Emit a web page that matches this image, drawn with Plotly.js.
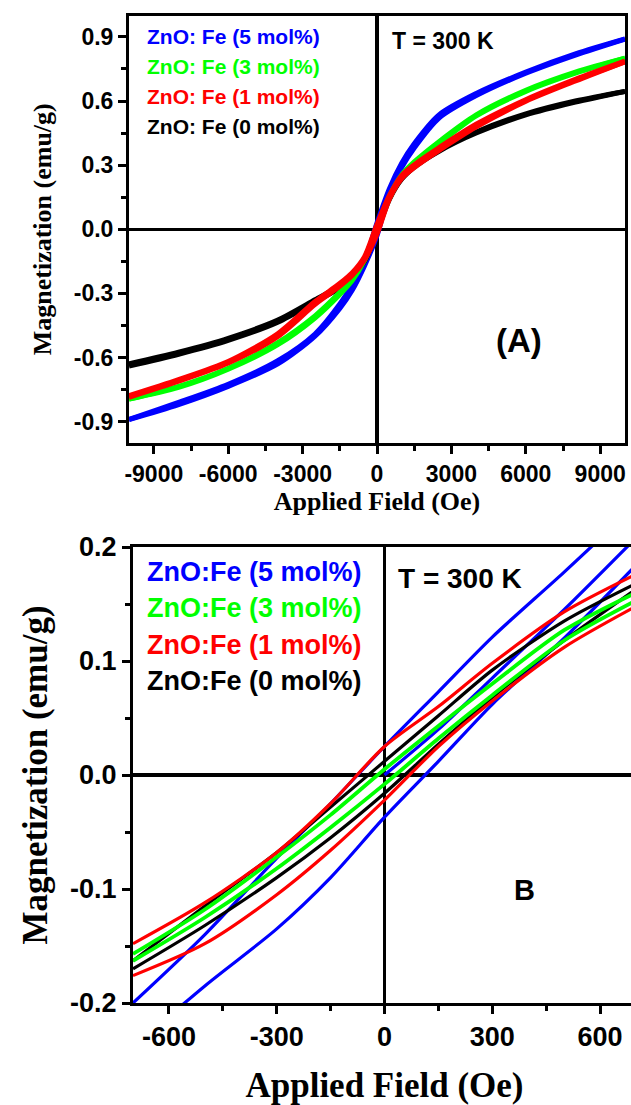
<!DOCTYPE html>
<html>
<head>
<meta charset="utf-8">
<script src="https://cdn.plot.ly/plotly-3.0.1.min.js"></script>
<style>
html,body{margin:0;padding:0;background:#fff;overflow:hidden;}
#chart{width:640px;height:1105px;}
</style>
</head>
<body>
<div id="chart"></div>
<script>
// ---------- Panel A (wide field) ----------
const fieldA_down = [10000, 8000, 6000, 4000, 2500, 1500, 1000, 500, 0, -500, -1000, -1500, -2500, -4000, -6000, -8000, -10000];
const fieldA_up   = [-10000, -8000, -6000, -4000, -2500, -1500, -1000, -500, 0, 500, 1000, 1500, 2500, 4000, 6000, 8000, 10000];

const fe5A_down = [0.89, 0.82, 0.735, 0.635, 0.535, 0.40, 0.31, 0.19, 0.03, -0.15, -0.26, -0.35, -0.49, -0.615, -0.725, -0.81, -0.89];
const fe5A_up   = [-0.89, -0.82, -0.735, -0.63, -0.50, -0.37, -0.285, -0.17, -0.03, 0.17, 0.29, 0.38, 0.52, 0.625, 0.73, 0.815, 0.89];

const fe3A_down = [0.80, 0.735, 0.65, 0.535, 0.41, 0.315, 0.255, 0.155, 0.01, -0.135, -0.23, -0.295, -0.405, -0.53, -0.65, -0.735, -0.795];
const fe3A_up   = [-0.795, -0.74, -0.655, -0.54, -0.415, -0.305, -0.24, -0.145, -0.01, 0.145, 0.245, 0.305, 0.40, 0.53, 0.645, 0.73, 0.80];

const fe1A_down = [0.785, 0.70, 0.605, 0.49, 0.38, 0.30, 0.25, 0.155, 0.02, -0.13, -0.205, -0.255, -0.34, -0.49, -0.62, -0.705, -0.78];
const fe1A_up   = [-0.785, -0.71, -0.625, -0.50, -0.35, -0.265, -0.215, -0.14, -0.02, 0.145, 0.24, 0.29, 0.37, 0.48, 0.60, 0.695, 0.785];

const fe0A_down = [0.645, 0.60, 0.54, 0.455, 0.37, 0.295, 0.245, 0.15, 0.01, -0.14, -0.215, -0.265, -0.33, -0.425, -0.51, -0.575, -0.63];
const fe0A_up   = [-0.64, -0.585, -0.52, -0.435, -0.34, -0.275, -0.225, -0.15, -0.01, 0.14, 0.235, 0.29, 0.365, 0.45, 0.535, 0.595, 0.645];

// ---------- Panel B (low field) ----------
const fieldB_down = [700, 500, 300, 150, 0, -150, -300, -500, -700];
const fieldB_up   = [-700, -500, -300, -150, 0, 150, 300, 500, 700];
const fieldB_virgin = [0, 150, 300, 500, 700];

const fe5B_down = [0.237, 0.178, 0.121, 0.073, 0.025, -0.025, -0.073, -0.14, -0.2];
const fe5B_up   = [-0.239, -0.185, -0.135, -0.09, -0.037, 0.012, 0.062, 0.12, 0.184];
const fe5B_virgin = [0.0, 0.04, 0.085, 0.145, 0.208];

const fe3B_down = [0.16, 0.127, 0.08, 0.043, 0.005, -0.035, -0.072, -0.118, -0.157];
const fe3B_up   = [-0.163, -0.125, -0.082, -0.046, -0.008, 0.032, 0.07, 0.118, 0.153];

const fe1B_down = [0.176, 0.143, 0.098, 0.06, 0.025, -0.025, -0.068, -0.112, -0.148];
const fe1B_up   = [-0.176, -0.148, -0.105, -0.066, -0.022, 0.025, 0.065, 0.112, 0.148];

const fe0B_down = [0.168, 0.135, 0.092, 0.052, 0.012, -0.028, -0.068, -0.115, -0.163];
const fe0B_up   = [-0.17, -0.132, -0.09, -0.055, -0.016, 0.027, 0.068, 0.118, 0.163];

// ---------- tick labels ----------
const ticksA_x = [-9000, -6000, -3000, 0, 3000, 6000, 9000];
const ticksA_xText = ['-9000', '-6000', '-3000', '0', '3000', '6000', '9000'];
const ticksA_y = [-0.9, -0.6, -0.3, 0, 0.3, 0.6, 0.9];
const ticksA_yText = ['-0.9', '-0.6', '-0.3', '0.0', '0.3', '0.6', '0.9'];
const ticksB_x = [-600, -300, 0, 300, 600];
const ticksB_xText = ['-600', '-300', '0', '300', '600'];
const ticksB_y = [-0.2, -0.1, 0, 0.1, 0.2];
const ticksB_yText = ['-0.2', '-0.1', '0.0', '0.1', '0.2'];

const legendA = ['ZnO: Fe (5 mol%)', 'ZnO: Fe (3 mol%)', 'ZnO: Fe (1 mol%)', 'ZnO: Fe (0 mol%)'];
const legendB = ['ZnO:Fe (5 mol%)', 'ZnO:Fe (3 mol%)', 'ZnO:Fe (1 mol%)', 'ZnO:Fe (0 mol%)'];
const seriesColors = ['#0000FF', '#00FF00', '#FF0000', '#000000'];

// ---------- helpers ----------
const W = 640, H = 1105;
const px = v => v / W;
const py = v => 1 - v / H;
function loop(a, b) { return a.concat([null], b); }

const sansBold = {family: 'Liberation Sans, Arial, sans-serif', color: '#000', weight: 'bold'};
const serifBold = {family: 'Liberation Serif, Times New Roman, serif', color: '#000', weight: 'bold'};

function lineTrace(x, y, color, width, xa, ya) {
  return {x: x, y: y, xaxis: xa, yaxis: ya, mode: 'lines', type: 'scatter',
          line: {color: color, width: width, shape: 'spline', smoothing: 0.8},
          connectgaps: false, showlegend: false, hoverinfo: 'skip'};
}

const traces = [
  lineTrace(loop(fieldA_down, fieldA_up), loop(fe5A_down, fe5A_up), seriesColors[0], 5, 'x', 'y'),
  lineTrace(loop(fieldA_down, fieldA_up), loop(fe0A_down, fe0A_up), seriesColors[3], 5, 'x', 'y'),
  lineTrace(loop(fieldA_down, fieldA_up), loop(fe3A_down, fe3A_up), seriesColors[1], 5, 'x', 'y'),
  lineTrace(loop(fieldA_down, fieldA_up), loop(fe1A_down, fe1A_up), seriesColors[2], 5.5, 'x', 'y'),
  lineTrace(loop(loop(fieldB_down, fieldB_up), fieldB_virgin), loop(loop(fe5B_down, fe5B_up), fe5B_virgin), seriesColors[0], 3.2, 'x2', 'y2'),
  lineTrace(loop(fieldB_down, fieldB_up), loop(fe0B_down, fe0B_up), seriesColors[3], 3.2, 'x2', 'y2'),
  lineTrace(loop(fieldB_down, fieldB_up), loop(fe3B_down, fe3B_up), seriesColors[1], 3.8, 'x2', 'y2'),
  lineTrace(loop(fieldB_down, fieldB_up), loop(fe1B_down, fe1B_up), seriesColors[2], 3.2, 'x2', 'y2')
];

function axisBase(extra) {
  return Object.assign({
    showline: true, linecolor: '#000', linewidth: 3, mirror: true,
    ticks: 'outside', ticklen: 8, tickwidth: 3, tickcolor: '#000',
    zeroline: true, zerolinecolor: '#000', zerolinewidth: 3.5,
    showgrid: false, automargin: false, fixedrange: true, tickmode: 'array'
  }, extra);
}

const layout = {
  width: W, height: H,
  margin: {l: 0, r: 0, t: 0, b: 0, pad: 0},
  paper_bgcolor: '#fff', plot_bgcolor: '#fff',
  showlegend: false,
  xaxis: axisBase({
    domain: [px(129), px(625)], range: [-10000, 10000], anchor: 'y',
    tickvals: ticksA_x, ticktext: ticksA_xText,
    tickfont: Object.assign({size: 23}, sansBold),
    minor: {ticks: 'outside', ticklen: 5, tickwidth: 3, tickcolor: '#000', dtick: 1500, tick0: 0, showgrid: false},
    title: {text: 'Applied Field (Oe)', font: Object.assign({size: 26}, serifBold), standoff: 0}
  }),
  yaxis: axisBase({
    domain: [py(443), py(15.5)], range: [-1, 1], anchor: 'x',
    tickvals: ticksA_y, ticktext: ticksA_yText,
    tickfont: Object.assign({size: 23}, sansBold),
    minor: {ticks: 'outside', ticklen: 5, tickwidth: 3, tickcolor: '#000', dtick: 0.15, tick0: 0, showgrid: false},
    title: {text: 'Magnetization (emu/g)', font: Object.assign({size: 26}, serifBold), standoff: 15}
  }),
  xaxis2: axisBase({
    domain: [px(133), px(636)], range: [-700, 700], anchor: 'y2',
    tickvals: ticksB_x, ticktext: ticksB_xText,
    tickfont: Object.assign({size: 27}, sansBold),
    minor: {ticks: 'outside', ticklen: 5, tickwidth: 3, tickcolor: '#000', dtick: 150, tick0: 0, showgrid: false},
    title: {text: 'Applied Field (Oe)', font: Object.assign({size: 35}, serifBold), standoff: 22}
  }),
  yaxis2: axisBase({
    domain: [py(1003), py(547)], range: [-0.2, 0.2], anchor: 'x2',
    tickvals: ticksB_y, ticktext: ticksB_yText,
    tickfont: Object.assign({size: 27}, sansBold),
    minor: {ticks: 'outside', ticklen: 5, tickwidth: 3, tickcolor: '#000', dtick: 0.05, tick0: 0, showgrid: false},
    title: {text: 'Magnetization (emu/g)', font: Object.assign({size: 35}, serifBold), standoff: 12}
  }),
  annotations: []
};

const legendAY = [36.5, 66, 96, 126];
legendA.forEach((t, i) => layout.annotations.push({
  xref: 'paper', yref: 'paper', x: px(145), y: py(legendAY[i]), xanchor: 'left', yanchor: 'middle',
  text: t, showarrow: false, font: Object.assign({}, sansBold, {size: 21, color: seriesColors[i]})
}));
const legendBY = [572, 608, 645, 681];
legendB.forEach((t, i) => layout.annotations.push({
  xref: 'paper', yref: 'paper', x: px(145), y: py(legendBY[i]), xanchor: 'left', yanchor: 'middle',
  text: t, showarrow: false, font: Object.assign({}, sansBold, {size: 27, color: seriesColors[i]})
}));
layout.annotations.push({xref: 'paper', yref: 'paper', x: px(390), y: py(41), xanchor: 'left', yanchor: 'middle',
  text: 'T = 300 K', showarrow: false, font: Object.assign({size: 23}, sansBold)});
layout.annotations.push({xref: 'paper', yref: 'paper', x: px(519), y: py(340), xanchor: 'center', yanchor: 'middle',
  text: '(A)', showarrow: false, font: Object.assign({size: 33}, sansBold)});
layout.annotations.push({xref: 'paper', yref: 'paper', x: px(396), y: py(578), xanchor: 'left', yanchor: 'middle',
  text: 'T = 300 K', showarrow: false, font: Object.assign({size: 28}, sansBold)});
layout.annotations.push({xref: 'paper', yref: 'paper', x: px(524), y: py(890), xanchor: 'center', yanchor: 'middle',
  text: 'B', showarrow: false, font: Object.assign({size: 29}, sansBold)});

Plotly.newPlot('chart', traces, layout, {staticPlot: true, displayModeBar: false});
</script>
</body>
</html>
